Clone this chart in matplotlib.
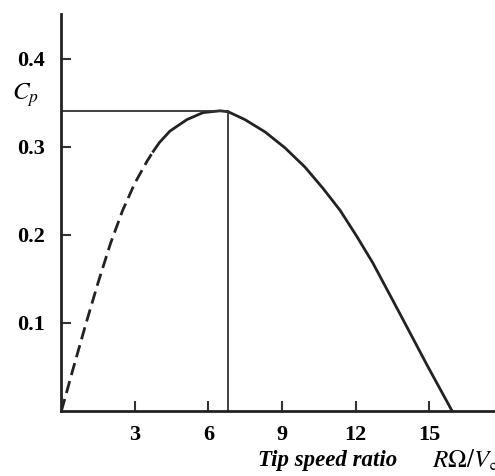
import matplotlib.pyplot as plt

plt.rcParams['mathtext.fontset'] = 'stix'

# Cp vs tip speed ratio
tsr_dashed = [0.0, 0.5, 1.0, 1.5, 2.0, 2.5, 3.0, 3.5, 3.75]
cp_dashed = [0.0, 0.050, 0.099, 0.146, 0.190, 0.228, 0.259, 0.284, 0.295]

tsr_solid = [3.75, 4.0, 4.43, 5.12, 5.78, 6.47, 6.8, 7.49, 8.31, 9.12, 9.94,
             10.67, 11.37, 12.06, 12.71, 13.82, 14.92, 15.94]
cp_solid = [0.295, 0.305, 0.318, 0.331, 0.339, 0.341, 0.340, 0.331, 0.317, 0.299, 0.277,
            0.253, 0.228, 0.198, 0.168, 0.110, 0.052, 0.0]

tsr_opt = 6.8
cp_max = 0.341

xticks = [3, 6, 9, 12, 15]
yticks = [0.1, 0.2, 0.3, 0.4]

fig = plt.figure(figsize=(4.95, 4.76), dpi=100)
ax = fig.add_axes([0.124, 0.1366, 0.876, 0.834])

ax.plot(tsr_dashed, cp_dashed, color='#222222', lw=2.0, ls=(0, (4.5, 2.2)))
ax.plot(tsr_solid, cp_solid, color='#222222', lw=2.0, solid_joinstyle='round')

# optimum lines
ax.plot([0, tsr_opt], [cp_max, cp_max], color='#333333', lw=1.3)
ax.plot([tsr_opt, tsr_opt], [0, cp_max], color='#333333', lw=1.3)

ax.set_xlim(0, 17.69)
ax.set_ylim(0, 0.451)
ax.spines['top'].set_visible(False)
ax.spines['right'].set_visible(False)
for s in ['left', 'bottom']:
    ax.spines[s].set_linewidth(2.0)
    ax.spines[s].set_color('#222222')

ax.set_xticks(xticks)
ax.set_yticks(yticks)
ax.set_xticklabels([str(t) for t in xticks], fontfamily='Liberation Serif',
                   fontweight='bold', fontsize=16)
ax.set_yticklabels([str(t) for t in yticks], fontfamily='Liberation Serif',
                   fontweight='bold', fontsize=16)
ax.tick_params(axis='both', direction='in', length=7, width=1.5, color='#333333')
ax.tick_params(axis='x', pad=10)
ax.tick_params(axis='y', pad=12)

fig.text(0.024, 0.80, '$C_p$', fontsize=18, ha='left', va='center')
fig.text(0.521, 0.033, 'Tip speed ratio', fontfamily='Liberation Serif',
         fontweight='bold', fontstyle='italic', fontsize=16.5, ha='left', va='center')
fig.text(0.872, 0.033, r'$R\Omega/V_\infty$', fontsize=18, ha='left', va='center')

fig.savefig('out.png', dpi=100)
